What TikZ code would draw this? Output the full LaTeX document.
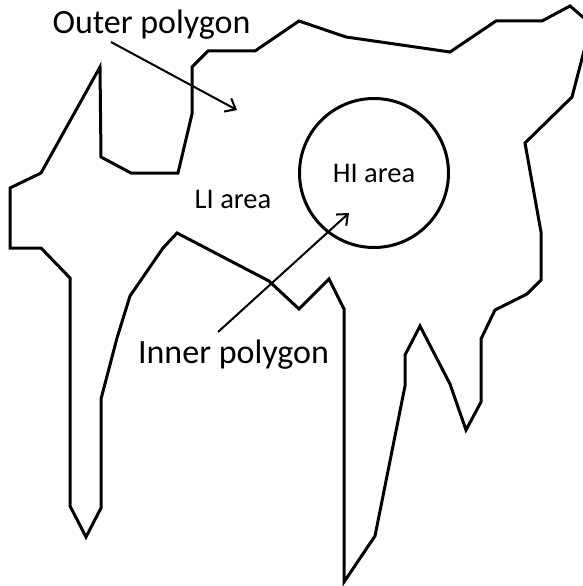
\documentclass[tikz,border=0pt]{standalone}
\usepackage{fontspec}
\setmainfont{Carlito}
\usetikzlibrary{arrows.meta}

\begin{document}
\begin{tikzpicture}[
				x=1pt, y=-1pt,
				>={Straight Barb[length=9pt,width=15pt]},
				region/.style={line width=3pt, line join=miter},
				zone/.style={draw, circle, minimum size=149pt, inner sep=0pt, line width=3pt, font=\fontsize{28.5pt}{34pt}\selectfont},
				arealbl/.style={anchor=base, inner sep=0pt, font=\fontsize{28.5pt}{34pt}\selectfont},
				polylbl/.style={anchor=base, inner sep=0pt, font=\fontsize{34pt}{40pt}\selectfont},
				pointer/.style={->, line width=2pt}
				]
				
				% Marco
				\path[use as bounding box] (0,0) rectangle (583,586);
				\clip (0,0) rectangle (583,586);
				
				% Poligono exterior
				\draw[region] (100,67) -- (101,157) -- (131,173) -- (178,173) -- (192,114)
				-- (192,67) -- (208,51) -- (255,51) -- (299,21) -- (346,37) -- (450,52)
				-- (496,21) -- (542,21) -- (570,6) -- (591,24) -- (572,97) -- (525,143)
				-- (541,232) -- (541,280) -- (527,294) -- (495,310) -- (481,339) -- (481,402)
				-- (466,430) -- (450,384) -- (420,326) -- (405,355) -- (405,386) -- (375,536)
				-- (344,582) -- (344,309) -- (329,279) -- (299,309) -- (269,281) -- (177,233)
				-- (163,248) -- (130,296) -- (117,338) -- (101,399) -- (101,508) -- (86,537)
				-- (70,506) -- (70,278) -- (41,248) -- (10,248) -- (10,188) -- (41,173) -- cycle;
				
				% Poligono interior
				\node[zone] (HI) at (374,173) {HI area};
				\node[arealbl] (LI) at (233,208) {LI area};
				
				% Etiquetas
				\node[polylbl] (outer) at (151.5,34) {Outer polygon};
				\node[polylbl] (inner) at (233.5,363) {Inner polygon};
				
				% Flechas
				\coordinate (outerTail) at (111,42);
				\coordinate (outerTip) at (237,110);
				\coordinate (innerTail) at (218,332);
				\coordinate (innerTip) at (349,213);
				\draw[pointer] (outerTail) -- (outerTip);
				\draw[pointer] (innerTail) -- (innerTip);
				
			\end{tikzpicture}
\end{document}
